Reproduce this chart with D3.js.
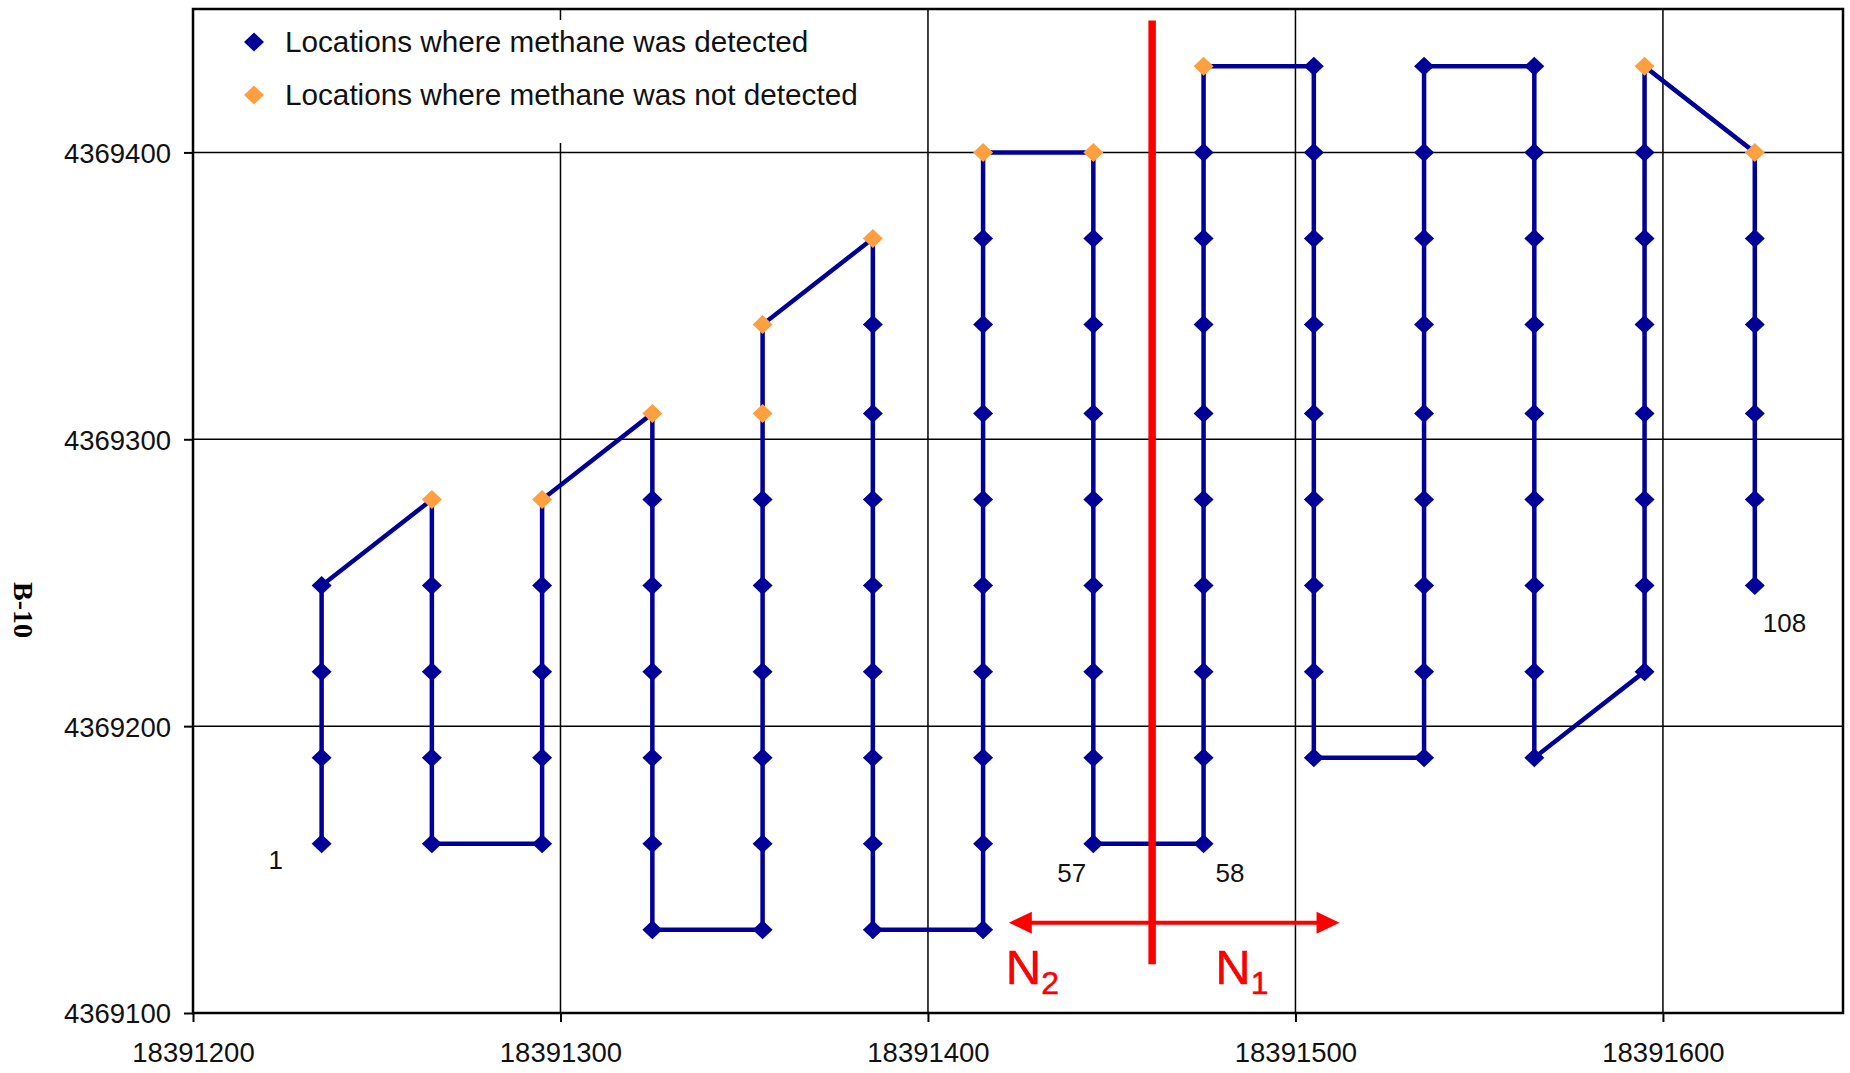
<!DOCTYPE html>
<html>
<head>
<meta charset="utf-8">
<script src="https://cdn.jsdelivr.net/npm/d3@7"></script>
<style>
  body { margin: 0; background: #fff; }
  svg { display: block; font-family: "Liberation Sans", Arial, sans-serif; }
  .grid line { stroke: #000; stroke-width: 1.5; }
  .tick-label { font-size: 27.5px; fill: #111; }
  .pt-label { font-size: 26px; fill: #111; }
  .legend text { font-size: 29.7px; fill: #111; }
</style>
</head>
<body>
<svg id="chart" width="1850" height="1073"></svg>
<script>
// axis ticks
const xTicks = [18391200, 18391300, 18391400, 18391500, 18391600]
const yTicks = [4369100, 4369200, 4369300, 4369400]

// sampling columns (easting), in walking order
const columnX = [18391235, 18391265, 18391295, 18391325, 18391355, 18391385, 18391415,
  18391445, 18391475, 18391505, 18391535, 18391565, 18391595, 18391625]

// northings of the points in each column, in walking order (points 1..108)
const columnY = [
  [4369159, 4369189, 4369219, 4369249],
  [4369279, 4369249, 4369219, 4369189, 4369159],
  [4369159, 4369189, 4369219, 4369249, 4369279],
  [4369309, 4369279, 4369249, 4369219, 4369189, 4369159, 4369129],
  [4369129, 4369159, 4369189, 4369219, 4369249, 4369279, 4369309, 4369340],
  [4369370, 4369340, 4369309, 4369279, 4369249, 4369219, 4369189, 4369159, 4369129],
  [4369129, 4369159, 4369189, 4369219, 4369249, 4369279, 4369309, 4369340, 4369370, 4369400],
  [4369400, 4369370, 4369340, 4369309, 4369279, 4369249, 4369219, 4369189, 4369159],
  [4369159, 4369189, 4369219, 4369249, 4369279, 4369309, 4369340, 4369370, 4369400, 4369430],
  [4369430, 4369400, 4369370, 4369340, 4369309, 4369279, 4369249, 4369219, 4369189],
  [4369189, 4369219, 4369249, 4369279, 4369309, 4369340, 4369370, 4369400, 4369430],
  [4369430, 4369400, 4369370, 4369340, 4369309, 4369279, 4369249, 4369219, 4369189],
  [4369219, 4369249, 4369279, 4369309, 4369340, 4369370, 4369400, 4369430],
  [4369400, 4369370, 4369340, 4369309, 4369279, 4369249]
]

// point numbers where methane was not detected
const notDetected = [5, 14, 15, 28, 29, 30, 48, 49, 67, 102, 103]
// numbered points
const labelledPoints = [1, 57, 58, 108]

// N1 / N2 boundary
const boundaryX = 18391461
const boundaryY = [4369117, 4369446]
const arrowX = [18391422, 18391512]
const arrowY = 4369131.5
const zones = [
  {name: 'N', sub: '2', x: 18391422},
  {name: 'N', sub: '1', x: 18391479}
]
const zoneLabelY = 4369110

const legendItems = ['Locations where methane was detected', 'Locations where methane was not detected']
const blue = '#000099'
const orange = '#ffa040'
const red = '#ff0000'

let svg = d3.select('#chart')

let plot = {left: 193, right: 1843, top: 9, bottom: 1013}

let x = d3.scaleLinear()
  .domain([18391200, 18391649])
  .range([plot.left, plot.right])

let y = d3.scaleLinear()
  .domain([4369100, 4369450])
  .range([plot.bottom, plot.top])

// flatten columns into numbered points
let points = []
columnY.forEach((col, ci) => {
  col.forEach(v => {
    points.push({n: points.length + 1, x: columnX[ci], y: v})
  })
})
points.forEach(p => { p.detected = !notDetected.includes(p.n) })

// gridlines
let grid = svg.append('g').classed('grid', true)
grid.selectAll('.vg')
  .data(xTicks.slice(1))
  .enter()
  .append('line')
  .attr('x1', d => x(d)).attr('x2', d => x(d))
  .attr('y1', plot.top).attr('y2', plot.bottom)
grid.selectAll('.hg')
  .data(yTicks.slice(1))
  .enter()
  .append('line')
  .attr('x1', plot.left).attr('x2', plot.right)
  .attr('y1', d => y(d)).attr('y2', d => y(d))

// legend box hides the grid behind it
let legend = svg.append('g').classed('legend', true)
legend.append('rect')
  .attr('x', 200).attr('y', 20)
  .attr('width', 705).attr('height', 123)
  .attr('fill', '#fff')

// plot border
svg.append('rect')
  .attr('x', plot.left).attr('y', plot.top)
  .attr('width', plot.right - plot.left)
  .attr('height', plot.bottom - plot.top)
  .attr('fill', 'none')
  .attr('stroke', '#000')
  .attr('stroke-width', 2.5)

// axes
let xAxis = svg.append('g')
  .attr('transform', `translate(0,${plot.bottom})`)
  .call(d3.axisBottom(x).tickValues(xTicks).tickSize(9).tickFormat(d3.format('d')))
let yAxis = svg.append('g')
  .attr('transform', `translate(${plot.left},0)`)
  .call(d3.axisLeft(y).tickValues(yTicks).tickSize(9).tickFormat(d3.format('d')))

;[xAxis, yAxis].forEach(a => {
  a.select('.domain').remove()
  a.selectAll('.tick line').attr('stroke', '#000').attr('stroke-width', 2)
  a.selectAll('.tick text')
    .classed('tick-label', true)
    .attr('font-size', null)
    .attr('font-family', null)
    .attr('fill', '#111')
})
xAxis.selectAll('.tick text').attr('dy', null).attr('y', 49)
yAxis.selectAll('.tick text').attr('x', -22).attr('dy', '0.36em')

// y axis title
svg.append('text')
  .attr('transform', 'translate(14,610) rotate(90)')
  .attr('text-anchor', 'middle')
  .attr('font-family', '"Liberation Serif", "Times New Roman", serif')
  .attr('font-weight', 'bold')
  .attr('font-size', 28)
  .text('B-10')

// walking path
let line = d3.line()
  .x(d => x(d.x))
  .y(d => y(d.y))

svg.append('path')
  .datum(points)
  .attr('d', line)
  .attr('fill', 'none')
  .attr('stroke', blue)
  .attr('stroke-width', 4.5)
  .attr('stroke-linejoin', 'miter')

let diamond = 'M0,-9.5L10,0L0,9.5L-10,0Z'

svg.selectAll('.pt')
  .data(points)
  .enter()
  .append('path')
  .classed('pt', true)
  .attr('d', diamond)
  .attr('transform', d => `translate(${x(d.x)},${y(d.y)})`)
  .attr('fill', d => d.detected ? blue : orange)

// point numbers
let labelOffsets = {1: [-53, 25], 57: [-36, 38], 58: [12, 38], 108: [8, 46]}
svg.selectAll('.pt-label')
  .data(points.filter(p => labelledPoints.includes(p.n)))
  .enter()
  .append('text')
  .classed('pt-label', true)
  .attr('x', d => x(d.x) + labelOffsets[d.n][0])
  .attr('y', d => y(d.y) + labelOffsets[d.n][1])
  .text(d => d.n)

// boundary and arrow
svg.append('line')
  .attr('x1', x(boundaryX)).attr('x2', x(boundaryX))
  .attr('y1', y(boundaryY[0])).attr('y2', y(boundaryY[1]))
  .attr('stroke', red)
  .attr('stroke-width', 7.5)

let ax0 = x(arrowX[0]), ax1 = x(arrowX[1]), ay = y(arrowY)
svg.append('line')
  .attr('x1', ax0 + 20).attr('x2', ax1 - 20)
  .attr('y1', ay).attr('y2', ay)
  .attr('stroke', red)
  .attr('stroke-width', 4)
svg.append('path')
  .attr('d', `M${ax0},${ay}L${ax0 + 23},${ay - 11}L${ax0 + 23},${ay + 11}Z`)
  .attr('fill', red)
svg.append('path')
  .attr('d', `M${ax1},${ay}L${ax1 - 23},${ay - 11}L${ax1 - 23},${ay + 11}Z`)
  .attr('fill', red)

let zoneText = svg.selectAll('.zone')
  .data(zones)
  .enter()
  .append('text')
  .classed('zone', true)
  .attr('x', d => x(d.x) - 3)
  .attr('y', y(zoneLabelY))
  .attr('fill', red)
  .attr('stroke', red)
  .attr('stroke-width', 0.5)
  .attr('font-size', 49)
zoneText.append('tspan').text(d => d.name)
zoneText.append('tspan')
  .attr('font-size', 32)
  .attr('dy', 10)
  .text(d => d.sub)

// legend entries
let entries = legend.selectAll('.entry')
  .data(legendItems)
  .enter()
  .append('g')
  .attr('transform', (d, i) => `translate(254,${42 + i * 53})`)
entries.append('path')
  .attr('d', diamond)
  .attr('fill', (d, i) => i === 0 ? blue : orange)
entries.append('text')
  .attr('x', 31)
  .attr('y', 10)
  .text(d => d)
</script>
</body>
</html>
